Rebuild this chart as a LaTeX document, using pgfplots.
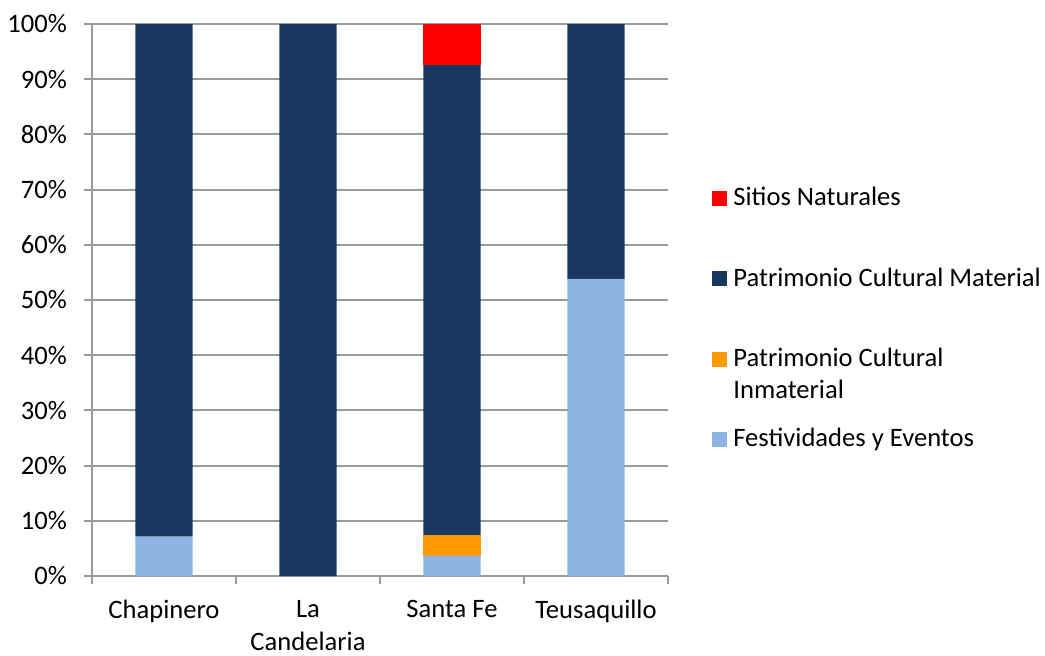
\documentclass[border=0pt]{standalone}
\usepackage{pgfplots}
\pgfplotsset{compat=1.18}
\usepackage{fontspec}
\setmainfont{Carlito}
\definecolor{cSitios}{HTML}{FF0000}
\definecolor{cMat}{HTML}{17375E}
\definecolor{cInm}{HTML}{FF9900}
\definecolor{cFest}{HTML}{8EB4E3}
\definecolor{cGrid}{HTML}{9A9A9A}
\pgfplotsset{sqlegend/.style={legend image code/.code={\fill[##1] (0pt,0pt) rectangle (7.5pt,7.5pt);}}}
\begin{document}
\begin{tikzpicture}
\path[use as bounding box] (0,0) rectangle (522.5pt,327.5pt);
\begin{axis}[
  at={(46pt,39.5pt)}, anchor=south west,
  scale only axis, width=288pt, height=276pt,
  ybar stacked, bar width=0.396,
  xmin=-0.5, xmax=3.5, ymin=0, ymax=100,
  xtick={0,1,2,3},
  xticklabels={Chapinero,{La\\Candelaria},Santa Fe,Teusaquillo},
  minor xtick={-0.5,0.5,1.5,2.5,3.5},
  major x tick style={draw=none},
  ytick={0,10,...,100},
  yticklabels={0\%,10\%,20\%,30\%,40\%,50\%,60\%,70\%,80\%,90\%,100\%},
  axis x line*=bottom, axis y line*=left,
  axis line style={cGrid, line width=1pt},
  tick style={cGrid, line width=1pt},
  major tick length=4pt, minor tick length=4pt,
  tick align=outside,
  ymajorgrids, grid style={cGrid, line width=1pt},
  xticklabel style={align=center, font=\fontsize{13.3}{16.5}\selectfont, text=black, yshift=-4.5pt},
  yticklabel style={font=\fontsize{13.3}{16}\selectfont, text=black, xshift=-5pt},
  reverse legend,
  legend style={draw=none, fill=none, at={(1.0764,0.7038)}, anchor=north west,
    inner sep=0pt, row sep=0pt, column sep=1.5pt,
    font=\fontsize{13.3}{16}\selectfont,
    cells={anchor=base west},
    nodes={inner xsep=1.5pt, inner ysep=0pt, text height=9pt, text depth=31.15pt}},
]
\addplot[fill=cFest, draw=none, sqlegend]
  coordinates {(0,7.14) (1,0) (2,3.70) (3,53.85)};
\addlegendentry{Festividades y Eventos}
\addplot[fill=cInm, draw=none, sqlegend]
  coordinates {(0,0) (1,0) (2,3.70) (3,0)};
\addlegendentry{\begin{tabular}[t]{@{}l@{}}Patrimonio Cultural\\Inmaterial\end{tabular}}
\addplot[fill=cMat, draw=none, sqlegend]
  coordinates {(0,92.86) (1,100) (2,85.19) (3,46.15)};
\addlegendentry{Patrimonio Cultural Material}
\addplot[fill=cSitios, draw=none, sqlegend]
  coordinates {(0,0) (1,0) (2,7.41) (3,0)};
\addlegendentry{Sitios Naturales}
\end{axis}
\end{tikzpicture}
\end{document}
